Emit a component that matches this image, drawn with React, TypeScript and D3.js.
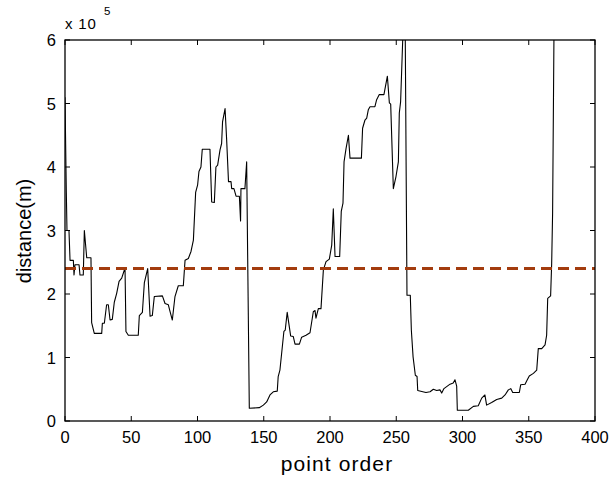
import React from "react";
import * as d3 from "d3";

// point order (x) and distance in units of 1e5 m (y)
const pointOrder: number[] = [
  0, 1, 1.5, 3, 3.8, 6.3, 6.8, 7.5, 10.6, 11.3, 13.8, 14.6, 16.4, 19.6, 20.1, 22.1, 27.7, 28.2, 29.7,
  31.4, 32.7, 34, 35.7, 37.2, 39, 40.8, 42.8, 45.3, 46, 47.8, 55.3, 56.1, 58.4, 59.9, 62.4, 64.2,
  65.9, 67.4, 73.5, 75.5, 78, 79.2, 81, 83, 85.5, 89.3, 90.6, 93.1, 95.1, 96.9, 98.6, 100.1, 101.1,
  102.6, 103.6, 109.4, 110.7, 112.7, 113.9, 115.2, 117, 118.2, 118.9, 120.8, 122, 123.4, 125.3,
  125.8, 127.5, 129.1, 131.6, 132.5, 132.8, 135.8, 137.1, 139.1, 146.6, 149.7, 152.2, 154.7, 157.2,
  160.2, 160.9, 162.2, 165.2, 166.2, 167.7, 170.3, 172.3, 173.6, 176.9, 178.6, 181.9, 184.9, 187.4,
  188.7, 189.4, 191.2, 193.2, 195, 197, 199.5, 201.3, 202.5, 203.8, 207.3, 208.5, 209.8, 210.6,
  212.1, 213.9, 215.1, 223.7, 224.6, 226.4, 227.7, 228.9, 230.2, 233.9, 235.2, 237.2, 240.7, 243.3,
  244.8, 245.8, 247.8, 249.8, 251.6, 252.3, 253.3, 256.5, 258.1, 260.6, 261.4, 262.7, 264.4, 265.7,
  266.2, 272.4, 275.5, 278, 280.5, 283, 284.3, 286, 290.6, 293, 294.3, 295.6, 296.1, 304.4, 308.2,
  311.9, 314.5, 316.9, 318.2, 322, 325.8, 329.6, 332.1, 334.6, 336.4, 337.9, 342.9, 343.9, 347.2,
  348.9, 350.4, 353.5, 356, 357.2, 359.8, 362.3, 363.5, 364.3, 366.5, 367.3, 368, 369, 369.5,
];
const distance: number[] = [
  5.1, 3.6, 3.0, 3.0, 2.53, 2.53, 2.3, 2.46, 2.46, 2.3, 2.3, 3.0, 2.57, 2.57, 1.55, 1.38, 1.38, 1.54, 1.54,
  1.83, 1.83, 1.59, 1.6, 1.87, 2.01, 2.2, 2.25, 2.41, 1.41, 1.35, 1.35, 1.66, 1.71, 2.18, 2.4, 1.65,
  1.66, 1.96, 1.97, 1.85, 1.83, 1.73, 1.59, 1.96, 2.13, 2.13, 2.53, 2.56, 2.67, 2.85, 3.6, 3.72, 3.93,
  4.0, 4.28, 4.28, 3.45, 3.44, 4.0, 4.03, 4.27, 4.37, 4.71, 4.92, 4.43, 3.77, 3.77,
  3.66, 3.66, 3.54, 3.54, 3.15, 3.66, 3.66, 4.08, 0.2, 0.21, 0.25, 0.3, 0.41, 0.46,
  0.47, 0.7, 0.8, 1.41, 1.43, 1.71, 1.34, 1.33, 1.21, 1.21, 1.32, 1.35, 1.39, 1.72,
  1.74, 1.62, 1.77, 1.77, 2.38, 2.51, 2.55, 2.77, 3.34, 2.59, 2.59, 3.3, 3.43, 4.08,
  4.29, 4.5, 4.14, 4.14, 4.61, 4.74, 4.77, 4.9, 4.95, 4.95, 5.06, 5.14, 5.14, 5.43,
  5.01, 4.99, 3.66, 3.85, 4.08, 4.85, 5.03, 7.0, 1.98, 1.98, 1.43, 1.01, 0.72, 0.7,
  0.48, 0.45, 0.46, 0.5, 0.48, 0.49, 0.44, 0.51, 0.58, 0.6, 0.65, 0.55, 0.17, 0.17, 0.23,
  0.24, 0.36, 0.41, 0.25, 0.29, 0.34, 0.36, 0.41, 0.49, 0.51, 0.45, 0.45, 0.57, 0.58,
  0.65, 0.71, 0.75, 0.8, 1.14, 1.14, 1.2, 1.35, 1.93, 1.97, 2.48, 3.27, 6.0, 7.0,
];
const thresholdValue = 2.4;
const xTicks: number[] = [0, 50, 100, 150, 200, 250, 300, 350, 400];
const yTicks: number[] = [0, 1, 2, 3, 4, 5, 6];
const xLabel = "point order";
const yLabel = "distance(m)";

const W = 610;
const H = 480;
const M = { left: 65, right: 15, top: 40, bottom: 59 };
const FONT = "'Liberation Sans', Arial, Helvetica, sans-serif";

export default function App() {
  const x = d3.scaleLinear().domain([0, 400]).range([M.left, W - M.right]);
  const y = d3.scaleLinear().domain([0, 6]).range([H - M.bottom, M.top]);
  const pts: [number, number][] = pointOrder.map((p, i) => [p, distance[i]]);
  const line = d3
    .line<[number, number]>()
    .x((d) => x(d[0]))
    .y((d) => y(d[1]));
  const x0 = x(0), x1 = x(400), y0 = y(0), y1 = y(6);
  const tl = 5;

  return (
    <svg
      width={W}
      height={H}
      style={{ position: "absolute", left: 0, top: 0, background: "#fff" }}
      fontFamily={FONT}
    >
      <defs>
        <clipPath id="plotclip">
          <rect x={x0} y={y1} width={x1 - x0} height={y0 - y1} />
        </clipPath>
      </defs>
      <rect x={0} y={0} width={W} height={H} fill="#fff" />
      <g clipPath="url(#plotclip)">
        <path d={line(pts) || ""} fill="none" stroke="#000" strokeWidth={1.1} strokeLinejoin="round" />
        <line
          x1={x0}
          x2={x1}
          y1={y(thresholdValue)}
          y2={y(thresholdValue)}
          stroke="#a33c0e"
          strokeWidth={3}
          strokeDasharray="11,6"
        />
      </g>
      {/* box */}
      <rect x={x0} y={y1} width={x1 - x0} height={y0 - y1} fill="none" stroke="#000" strokeWidth={1.3} />
      {/* x ticks */}
      {xTicks.map((t) => (
        <g key={"xt" + t}>
          <line x1={x(t)} x2={x(t)} y1={y0} y2={y0 - tl} stroke="#000" strokeWidth={1} />
          <line x1={x(t)} x2={x(t)} y1={y1} y2={y1 + tl} stroke="#000" strokeWidth={1} />
          <text x={x(t)} y={y0 + 22} textAnchor="middle" fontSize={16.5} fill="#000">
            {t}
          </text>
        </g>
      ))}
      {yTicks.map((t) => (
        <g key={"yt" + t}>
          <line x1={x0} x2={x0 + tl} y1={y(t)} y2={y(t)} stroke="#000" strokeWidth={1} />
          <line x1={x1} x2={x1 - tl} y1={y(t)} y2={y(t)} stroke="#000" strokeWidth={1} />
          <text x={x0 - 9} y={y(t) + 6} textAnchor="end" fontSize={16.5} fill="#000">
            {t}
          </text>
        </g>
      ))}
      <text x={x0} y={29} fontSize={15} fill="#000" letterSpacing={0.8}>
        x 10
      </text>
      <text x={104} y={15} fontSize={11.5} fill="#000">
        5
      </text>
      <text x={337} y={471} textAnchor="middle" fontSize={21} fill="#000" letterSpacing={1.1}>
        {xLabel}
      </text>
      <text
        transform={`translate(31, 231) rotate(-90)`}
        textAnchor="middle"
        fontSize={20}
        fill="#000"
      >
        {yLabel}
      </text>
    </svg>
  );
}
